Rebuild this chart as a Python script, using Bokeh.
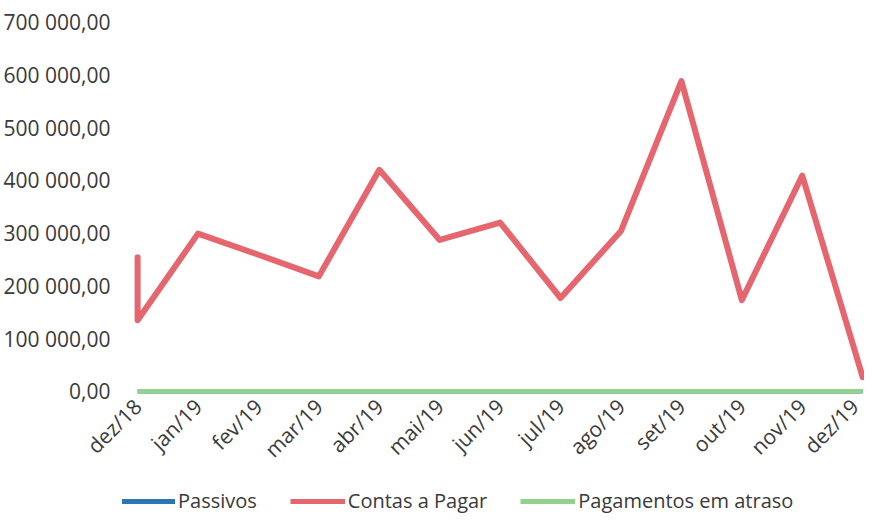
from bokeh.plotting import figure
from bokeh.layouts import column
from bokeh.models import Range1d, FixedTicker, CustomJSTickFormatter, Legend, LegendItem
from bokeh.embed import file_html
from bokeh.resources import INLINE

months = ["dez/18", "jan/19", "fev/19", "mar/19", "abr/19", "mai/19", "jun/19",
          "jul/19", "ago/19", "set/19", "out/19", "nov/19", "dez/19"]

# Contas a Pagar (first month has two readings)
contas_months = ["dez/18", "dez/18", "jan/19", "fev/19", "mar/19", "abr/19", "mai/19",
                 "jun/19", "jul/19", "ago/19", "set/19", "out/19", "nov/19", "dez/19"]
contas_values = [254000, 135000, 299000, 259000, 218000, 420000, 287000,
                 320000, 177000, 304000, 588000, 173000, 409000, 27000]

passivos_values = [0, 0, 0, 0, 0, 0, 0, 0, 0, 0, 0, 0, 0]
atraso_values = [0, 0, 0, 0, 0, 0, 0, 0, 0, 0, 0, 0, 0]

y_ticks = [0, 100000, 200000, 300000, 400000, 500000, 600000, 700000]

series_names = ["Passivos", "Contas a Pagar", "Pagamentos em atraso"]
series_colors = ["#2E75B6", "#E6666F", "#92D28E"]

FONT = "Open Sans"
TXT = "#3a3a3a"

p = figure(width=864, height=478, output_backend="svg", toolbar_location=None,
           x_range=Range1d(-0.25, 12.03), y_range=Range1d(-4000, 720000),
           min_border_top=11, min_border_right=0, min_border_bottom=85)

xs_month = [months.index(m) for m in months]
xs_contas = [months.index(m) for m in contas_months]

p.line(xs_month, passivos_values, line_color=series_colors[0], line_width=5)
p.line(xs_contas, contas_values, line_color=series_colors[1], line_width=6,
       line_join="round", line_cap="round")
p.line(xs_month, atraso_values, line_color=series_colors[2], line_width=5)

p.xgrid.visible = False
p.ygrid.visible = False
p.outline_line_color = None

p.yaxis.ticker = FixedTicker(ticks=y_ticks)
p.yaxis.formatter = CustomJSTickFormatter(code="""
    var s = tick.toFixed(2).split('.');
    var ip = s[0].replace(/\\B(?=(\\d{3})+(?!\\d))/g, ' ');
    return ip + ',' + s[1];
""")
p.xaxis.ticker = FixedTicker(ticks=list(range(len(months))))
p.xaxis.major_label_overrides = {i: m for i, m in enumerate(months)}
p.xaxis.major_label_orientation = 0.785398

for ax in (p.xaxis[0], p.yaxis[0]):
    ax.axis_line_color = None
    ax.major_tick_line_color = None
    ax.minor_tick_line_color = None
    ax.major_label_text_font = FONT
    ax.major_label_text_font_size = "21px"
    ax.major_label_text_color = TXT
p.yaxis.major_label_standoff = 6
p.xaxis.major_label_standoff = 3

# legend strip below the chart
lg = figure(width=864, height=38, output_backend="svg", toolbar_location=None,
            x_range=Range1d(0, 1), y_range=Range1d(0, 1),
            min_border=0)
lg.axis.visible = False
lg.grid.visible = False
lg.outline_line_color = None
items = []
for name, col in zip(series_names, series_colors):
    r = lg.line([float("nan")], [float("nan")], line_color=col, line_width=5)
    items.append(LegendItem(label=name, renderers=[r]))
legend = Legend(items=items, orientation="horizontal", location=(-2, 2))
legend.label_text_font = FONT
legend.label_text_font_size = "20px"
legend.label_text_color = TXT
legend.glyph_width = 55
legend.label_standoff = 3
legend.spacing = 33
legend.border_line_color = None
legend.background_fill_alpha = 0
legend.padding = 0
legend.margin = 0
lg.add_layout(legend)

layout = column(p, lg, spacing=0)
open("out.html", "w").write(file_html(layout, INLINE))
